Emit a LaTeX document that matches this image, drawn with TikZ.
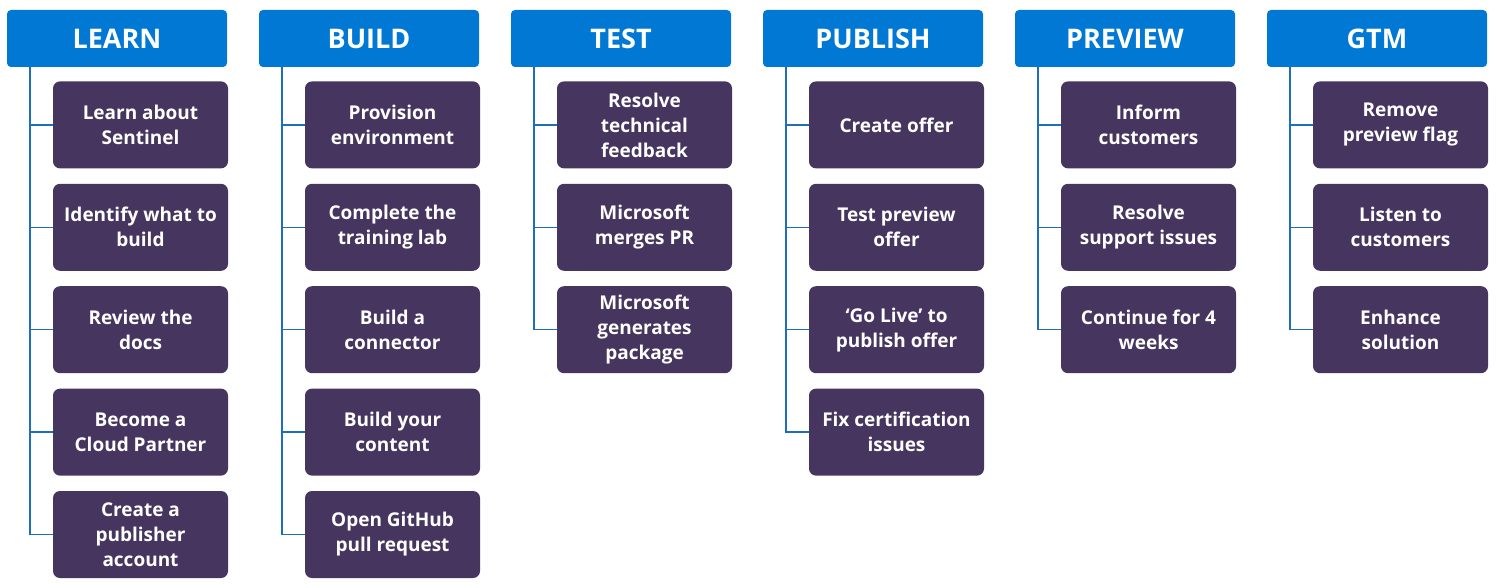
\documentclass[tikz,border=0pt]{standalone}
\usepackage{fontspec}
\setmainfont{Open Sans}
\usepackage{tikz}
\usetikzlibrary{positioning}

\definecolor{hdrblue}{HTML}{0078D4}
\definecolor{boxpurple}{HTML}{46355F}
\definecolor{lineblue}{HTML}{1F6FB8}

\begin{document}
\begin{tikzpicture}[x=1pt, y=1pt,
    header/.style={rectangle, rounded corners=4pt, fill=hdrblue, text=white, minimum width=220pt, minimum height=57pt, inner sep=0pt, font=\fontsize{27}{30}\selectfont\bfseries},
    taskbox/.style={rectangle, rounded corners=7pt, fill=boxpurple, text=white, minimum width=175pt, minimum height=87pt, inner sep=0pt, align=center, font=\fontsize{19}{25}\selectfont\bfseries},
    conn/.style={draw=lineblue, line width=1.4pt},
    node distance=15pt]
    \useasboundingbox (0,0) rectangle (1498,-588);

    % column headers
    \node[header] (learn) at (117,-38.5) {LEARN};
    \node[header] (build) [right=31.6pt of learn] {BUILD};
    \node[header] (test) [right=31.6pt of build] {TEST};
    \node[header] (publish) [right=31.6pt of test] {PUBLISH};
    \node[header] (preview) [right=31.6pt of publish] {PREVIEW};
    \node[header] (gtm) [right=31.6pt of preview] {GTM};

    % learn
    \node[taskbox] (learn1) [below right=14pt and 46pt of learn.south west] {Learn about\\Sentinel};
    \node[taskbox] (learn2) [below=of learn1] {Identify what to\\build};
    \node[taskbox] (learn3) [below=of learn2] {Review the\\docs};
    \node[taskbox] (learn4) [below=of learn3] {Become a\\Cloud Partner};
    \node[taskbox] (learn5) [below=of learn4] {Create a\\publisher\\account};

    % build
    \node[taskbox] (build1) [below right=14pt and 46pt of build.south west] {Provision\\environment};
    \node[taskbox] (build2) [below=of build1] {Complete the\\training lab};
    \node[taskbox] (build3) [below=of build2] {Build a\\connector};
    \node[taskbox] (build4) [below=of build3] {Build your\\content};
    \node[taskbox] (build5) [below=of build4] {Open GitHub\\pull request};

    % test
    \node[taskbox] (test1) [below right=14pt and 46pt of test.south west] {Resolve\\technical\\feedback};
    \node[taskbox] (test2) [below=of test1] {Microsoft\\merges PR};
    \node[taskbox] (test3) [below=of test2] {Microsoft\\generates\\package};

    % publish
    \node[taskbox] (publish1) [below right=14pt and 46pt of publish.south west] {Create offer};
    \node[taskbox] (publish2) [below=of publish1] {Test preview\\offer};
    \node[taskbox] (publish3) [below=of publish2] {‘Go Live’ to\\publish offer};
    \node[taskbox] (publish4) [below=of publish3] {Fix certification\\issues};

    % preview
    \node[taskbox] (preview1) [below right=14pt and 46pt of preview.south west] {Inform\\customers};
    \node[taskbox] (preview2) [below=of preview1] {Resolve\\support issues};
    \node[taskbox] (preview3) [below=of preview2] {Continue for 4\\weeks};

    % gtm
    \node[taskbox] (gtm1) [below right=14pt and 46pt of gtm.south west] {Remove\\preview flag};
    \node[taskbox] (gtm2) [below=of gtm1] {Listen to\\customers};
    \node[taskbox] (gtm3) [below=of gtm2] {Enhance\\solution};

    % connectors
    \draw[conn] ([xshift=23pt]learn.south west) |- (learn1.west);
    \draw[conn] ([xshift=23pt]learn.south west) |- (learn2.west);
    \draw[conn] ([xshift=23pt]learn.south west) |- (learn3.west);
    \draw[conn] ([xshift=23pt]learn.south west) |- (learn4.west);
    \draw[conn] ([xshift=23pt]learn.south west) |- (learn5.west);

    \draw[conn] ([xshift=23pt]build.south west) |- (build1.west);
    \draw[conn] ([xshift=23pt]build.south west) |- (build2.west);
    \draw[conn] ([xshift=23pt]build.south west) |- (build3.west);
    \draw[conn] ([xshift=23pt]build.south west) |- (build4.west);
    \draw[conn] ([xshift=23pt]build.south west) |- (build5.west);

    \draw[conn] ([xshift=23pt]test.south west) |- (test1.west);
    \draw[conn] ([xshift=23pt]test.south west) |- (test2.west);
    \draw[conn] ([xshift=23pt]test.south west) |- (test3.west);

    \draw[conn] ([xshift=23pt]publish.south west) |- (publish1.west);
    \draw[conn] ([xshift=23pt]publish.south west) |- (publish2.west);
    \draw[conn] ([xshift=23pt]publish.south west) |- (publish3.west);
    \draw[conn] ([xshift=23pt]publish.south west) |- (publish4.west);

    \draw[conn] ([xshift=23pt]preview.south west) |- (preview1.west);
    \draw[conn] ([xshift=23pt]preview.south west) |- (preview2.west);
    \draw[conn] ([xshift=23pt]preview.south west) |- (preview3.west);

    \draw[conn] ([xshift=23pt]gtm.south west) |- (gtm1.west);
    \draw[conn] ([xshift=23pt]gtm.south west) |- (gtm2.west);
    \draw[conn] ([xshift=23pt]gtm.south west) |- (gtm3.west);
\end{tikzpicture}
\end{document}
